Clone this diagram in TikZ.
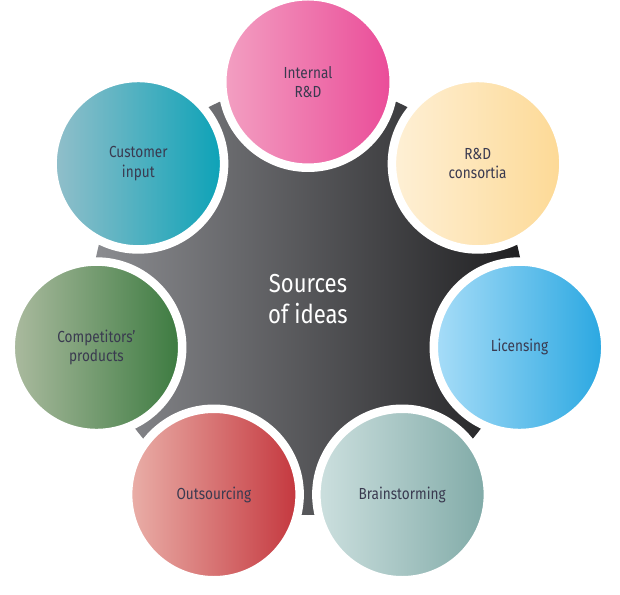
\documentclass[tikz,border=0pt]{standalone}
\usepackage{fontspec}
\setmainfont{Fira Sans}[FakeStretch=0.85]
\usetikzlibrary{calc}
\definecolor{g1}{HTML}{8C8D91}
\definecolor{g2}{HTML}{67686B}
\definecolor{g3}{HTML}{1F1F21}
\definecolor{txt}{HTML}{3A3A50}
\definecolor{pinkL}{HTML}{F3A0C2}\definecolor{pinkR}{HTML}{EA4B98}
\definecolor{yelL}{HTML}{FEF0D6}\definecolor{yelR}{HTML}{FDD995}
\definecolor{bluL}{HTML}{A8DDF8}\definecolor{bluR}{HTML}{29A7E1}
\definecolor{sagL}{HTML}{CDE0DF}\definecolor{sagR}{HTML}{80AAA7}
\definecolor{redL}{HTML}{EAB0A9}\definecolor{redR}{HTML}{C4363D}
\definecolor{grnL}{HTML}{ACBBA0}\definecolor{grnR}{HTML}{3B7A3F}
\definecolor{tealL}{HTML}{93BFCA}\definecolor{tealR}{HTML}{0BA2B7}
\begin{document}
\begin{tikzpicture}[x=1pt,y=1pt,
  idea/.style={circle, minimum size=171.5pt, inner sep=0pt, draw=white,
    line width=8.5pt, text=txt, align=center,
    font=\fontsize{16}{19.5}\selectfont}]
\useasboundingbox (0,0) rectangle (620,594);
\coordinate (C) at (308,295);
\shade[left color=g1, middle color=g2, right color=g3] (C) circle (216pt);
\node[idea, left color=pinkL, right color=pinkR] (rd) at ($(C)+(90:217pt)$) {Internal\\R\&D};
\node[idea, left color=yelL, right color=yelR] (cons) at ($(C)+(38.57:217pt)$) {R\&D\\consortia};
\node[idea, left color=bluL, right color=bluR] (lic) at ($(C)+(-12.86:217pt)$) {Licensing};
\node[idea, left color=sagL, right color=sagR] (brain) at ($(C)+(-64.29:217pt)$) {Brainstorming};
\node[idea, left color=redL, right color=redR] (out) at ($(C)+(-115.71:217pt)$) {Outsourcing};
\node[idea, left color=grnL, right color=grnR] (comp) at ($(C)+(192.86:217pt)$) {Competitors’\\products};
\node[idea, left color=tealL, right color=tealR] (cust) at ($(C)+(141.43:217pt)$) {Customer\\input};
\node[text=white, align=center, font=\fontsize{26}{31}\selectfont] (src) at (C) {Sources\\of ideas};
\end{tikzpicture}
\end{document}
